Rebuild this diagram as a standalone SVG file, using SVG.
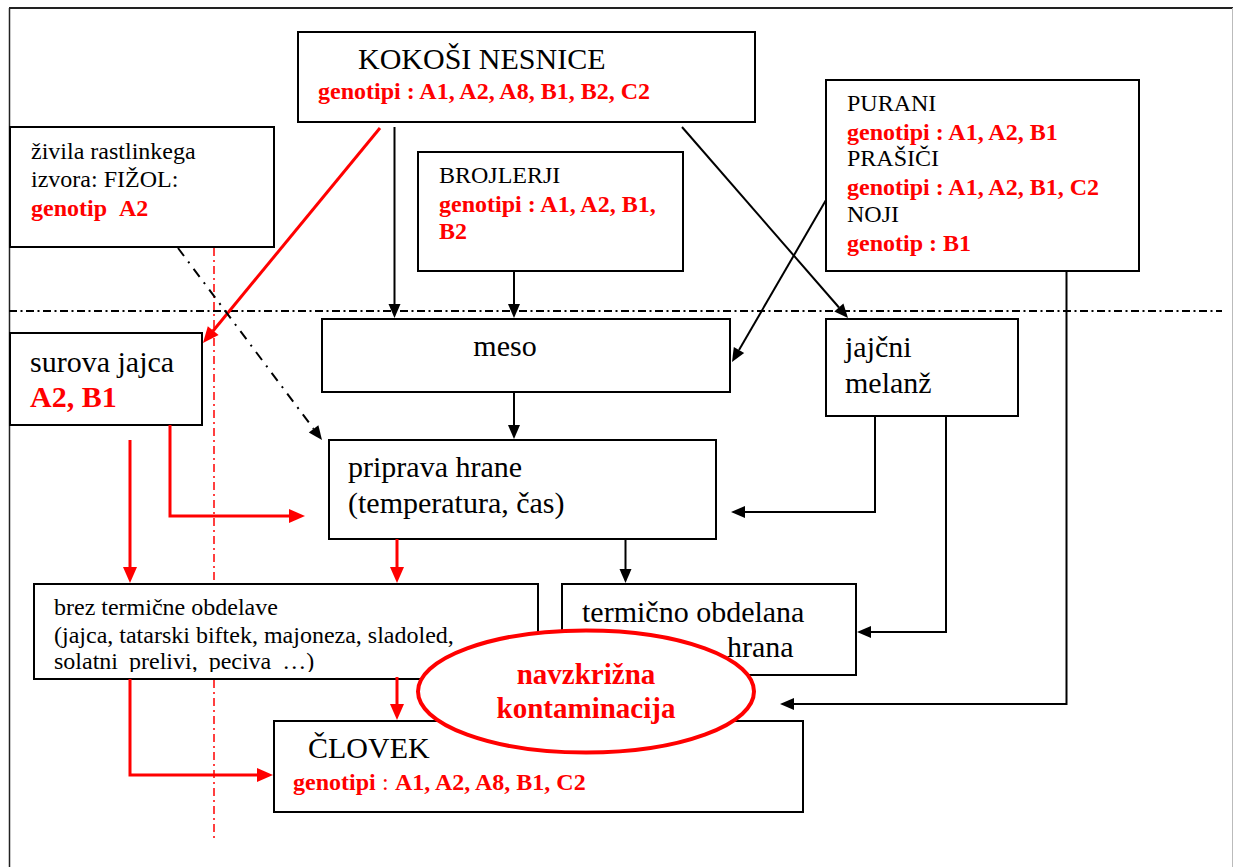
<svg xmlns="http://www.w3.org/2000/svg" width="1234" height="867" viewBox="0 0 1234 867">
<rect width="1234" height="867" fill="#fff"/>
<g id="frame">
<line x1="9" y1="8" x2="1233" y2="8" stroke="#222" stroke-width="2"/>
<line x1="9.5" y1="8" x2="9.5" y2="867" stroke="#222" stroke-width="1.5"/>
<line x1="1232.5" y1="8" x2="1232.5" y2="867" stroke="#bbb" stroke-width="1"/>
<line x1="9" y1="311" x2="1222" y2="311" fill="none" stroke="#000" stroke-width="2" stroke-dasharray="8 3.5 2 3.5"/>
<line x1="214" y1="230" x2="214" y2="838" stroke="#ff0000" stroke-width="1.5" stroke-dasharray="8 4 2 4"/>
</g>
<g id="kokosi">
<rect x="298" y="32" width="457" height="90" fill="#fff" stroke="#000" stroke-width="2"/>
<text font-family="Liberation Serif, serif" x="358" y="69" font-size="30">KOKOŠI NESNICE</text>
<text font-family="Liberation Serif, serif" x="318" y="99" font-size="24" fill="#ff0000" font-weight="bold">genotipi : A1, A2, A8, B1, B2, C2</text>
</g>
<g id="zivila">
<rect x="10" y="127" width="264" height="120" fill="#fff" stroke="#000" stroke-width="2"/>
<text font-family="Liberation Serif, serif" x="31" y="159" font-size="24">živila rastlinkega</text>
<text font-family="Liberation Serif, serif" x="31" y="187" font-size="24">izvora: FIŽOL:</text>
<text font-family="Liberation Serif, serif" x="31" y="216" font-size="24" fill="#ff0000" font-weight="bold">genotip</text>
<text font-family="Liberation Serif, serif" x="119" y="216" font-size="24" fill="#ff0000" font-weight="bold">A2</text>
</g>
<g id="brojlerji">
<rect x="418" y="152" width="265" height="119" fill="#fff" stroke="#000" stroke-width="2"/>
<text font-family="Liberation Serif, serif" x="439" y="183" font-size="24">BROJLERJI</text>
<text font-family="Liberation Serif, serif" x="439" y="212" font-size="24" fill="#ff0000" font-weight="bold">genotipi : A1, A2, B1,</text>
<text font-family="Liberation Serif, serif" x="439" y="239" font-size="24" fill="#ff0000" font-weight="bold">B2</text>
</g>
<g id="purani">
<rect x="826" y="80" width="313" height="191" fill="#fff" stroke="#000" stroke-width="2"/>
<text font-family="Liberation Serif, serif" x="847" y="111" font-size="24">PURANI</text>
<text font-family="Liberation Serif, serif" x="847" y="140" font-size="24" fill="#ff0000" font-weight="bold">genotipi : A1, A2, B1</text>
<text font-family="Liberation Serif, serif" x="847" y="166" font-size="24">PRAŠIČI</text>
<text font-family="Liberation Serif, serif" x="847" y="195" font-size="24" fill="#ff0000" font-weight="bold">genotipi : A1, A2, B1, C2</text>
<text font-family="Liberation Serif, serif" x="847" y="222" font-size="24">NOJI</text>
<text font-family="Liberation Serif, serif" x="847" y="251" font-size="24" fill="#ff0000" font-weight="bold">genotip : B1</text>
</g>
<g id="surova">
<rect x="10" y="333" width="192" height="92" fill="#fff" stroke="#000" stroke-width="2"/>
<text font-family="Liberation Serif, serif" x="30" y="372" font-size="30">surova jajca</text>
<text font-family="Liberation Serif, serif" x="30" y="407" font-size="30" fill="#ff0000" font-weight="bold">A2, B1</text>
</g>
<g id="meso">
<rect x="322" y="319" width="408" height="73" fill="#fff" stroke="#000" stroke-width="2"/>
<text font-family="Liberation Serif, serif" x="505" y="356" font-size="30" text-anchor="middle">meso</text>
</g>
<g id="melanz">
<rect x="826" y="319" width="192" height="97" fill="#fff" stroke="#000" stroke-width="2"/>
<text font-family="Liberation Serif, serif" x="845" y="357" font-size="30">jajčni</text>
<text font-family="Liberation Serif, serif" x="845" y="393" font-size="30">melanž</text>
</g>
<g id="priprava">
<rect x="329" y="440" width="387" height="99" fill="#fff" stroke="#000" stroke-width="2"/>
<text font-family="Liberation Serif, serif" x="348" y="477" font-size="30">priprava hrane</text>
<text font-family="Liberation Serif, serif" x="348" y="513" font-size="30">(temperatura, čas)</text>
</g>
<g id="brez">
<rect x="34" y="584" width="504" height="95" fill="#fff" stroke="#000" stroke-width="2"/>
<text font-family="Liberation Serif, serif" x="54" y="615" font-size="24">brez termične obdelave</text>
<text font-family="Liberation Serif, serif" x="54" y="643" font-size="24">(jajca, tatarski biftek, majoneza, sladoled,</text>
<text font-family="Liberation Serif, serif" x="54" y="669" font-size="24" word-spacing="5">solatni prelivi, peciva …)</text>
<rect x="36" y="672" width="500" height="6" fill="#fff"/>
</g>
<g id="termicno">
<rect x="562" y="584" width="294" height="91" fill="#fff" stroke="#000" stroke-width="2"/>
<text font-family="Liberation Serif, serif" x="582" y="622" font-size="30">termično obdelana</text>
<text font-family="Liberation Serif, serif" x="727" y="657" font-size="30">hrana</text>
</g>
<g id="clovek">
<rect x="274" y="721" width="529" height="91" fill="#fff" stroke="#000" stroke-width="2"/>
<text font-family="Liberation Serif, serif" x="308" y="758" font-size="30">ČLOVEK</text>
<text font-family="Liberation Serif, serif" x="293" y="790" font-size="24" fill="#ff0000" font-weight="bold">genotipi</text>
<text font-family="Liberation Serif, serif" x="382" y="790" font-size="24" fill="#ff0000">:</text>
<text font-family="Liberation Serif, serif" x="395" y="790" font-size="24" fill="#ff0000" font-weight="bold">A1, A2, A8, B1, C2</text>
</g>
<g id="kontaminacija">
<ellipse cx="586" cy="691.5" rx="168" ry="61" fill="#fff" stroke="#ff0000" stroke-width="4"/>
<text font-family="Liberation Serif, serif" x="586" y="684" text-anchor="middle" font-size="29" fill="#ff0000" font-weight="bold">navzkrižna</text>
<text font-family="Liberation Serif, serif" x="586" y="718" text-anchor="middle" font-size="29" fill="#ff0000" font-weight="bold">kontaminacija</text>
</g>
<g id="connectors" fill="none" stroke-width="2">
<line x1="380" y1="128" x2="213" y2="331" stroke="#ff0000" stroke-width="3"/>
<polygon points="203,343 218.6,335.1 207.8,326.2" fill="#ff0000" stroke="none"/>
<line x1="394.5" y1="127" x2="394.5" y2="305" stroke="#000"/>
<polygon points="394.5,318 388.5,304 400.5,304" fill="#000" stroke="none"/>
<line x1="514" y1="271" x2="514" y2="305" stroke="#000"/>
<polygon points="514,318 508,304 520,304" fill="#000" stroke="none"/>
<line x1="682" y1="127" x2="839" y2="307.5" stroke="#000"/>
<polygon points="848,318 834.3,311.4 843.4,303.5" fill="#000" stroke="none"/>
<line x1="826" y1="200" x2="739" y2="350" stroke="#000"/>
<polygon points="732,362 744.2,352.9 733.8,346.9" fill="#000" stroke="none"/>
<polyline points="1066.5,271 1066.5,704 793,704" stroke="#000"/>
<polygon points="780,704 794,698 794,710" fill="#000" stroke="none"/>
<line x1="178" y1="248" x2="313.6" y2="428.8" stroke="#000" stroke-dasharray="10 7 2 7"/>
<polygon points="322,440 308.8,432.4 318.4,425.2" fill="#000" stroke="none"/>
<line x1="514" y1="392" x2="514" y2="426" stroke="#000"/>
<polygon points="514,439 508,425 520,425" fill="#000" stroke="none"/>
<polyline points="875,416 875,512 744,512" stroke="#000"/>
<polygon points="731,512 745,506 745,518" fill="#000" stroke="none"/>
<polyline points="946,416 946,632 870,632" stroke="#000"/>
<polygon points="857,632 871,626 871,638" fill="#000" stroke="none"/>
<line x1="625.5" y1="539" x2="625.5" y2="570" stroke="#000"/>
<polygon points="625.5,583 619.5,569 631.5,569" fill="#000" stroke="none"/>
<line x1="397" y1="539" x2="397" y2="568" stroke="#ff0000" stroke-width="3"/>
<polygon points="397,583 390,567 404,567" fill="#ff0000" stroke="none"/>
<line x1="130" y1="440" x2="130" y2="568" stroke="#ff0000" stroke-width="3"/>
<polygon points="130,583 123,567 137,567" fill="#ff0000" stroke="none"/>
<polyline points="170,425 170,516 290,516" stroke="#ff0000" stroke-width="3"/>
<polygon points="305,516 289,509 289,523" fill="#ff0000" stroke="none"/>
<polyline points="130,679 130,775 258,775" stroke="#ff0000" stroke-width="3"/>
<polygon points="273,775 257,768 257,782" fill="#ff0000" stroke="none"/>
<line x1="397" y1="677" x2="397" y2="705" stroke="#ff0000" stroke-width="3"/>
<polygon points="397,720 390,704 404,704" fill="#ff0000" stroke="none"/>
</g>
</svg>
